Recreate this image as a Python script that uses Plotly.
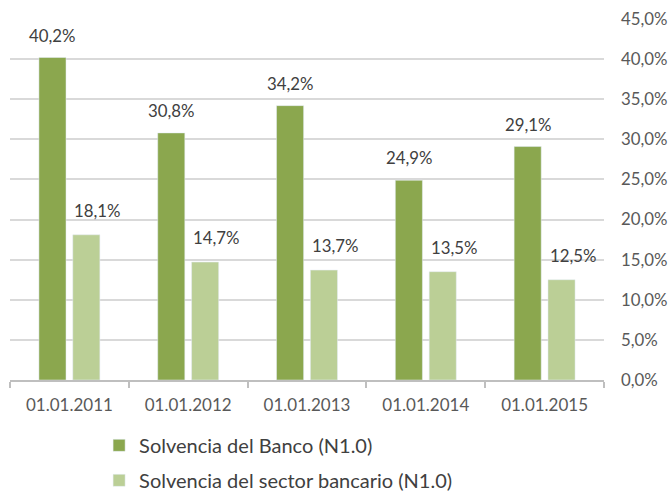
import plotly.graph_objects as go

categories = ["01.01.2011", "01.01.2012", "01.01.2013", "01.01.2014", "01.01.2015"]
banco = [40.2, 30.8, 34.2, 24.9, 29.1]
sector = [18.1, 14.7, 13.7, 13.5, 12.5]
series_names = ["Solvencia del Banco (N1.0)", "Solvencia del sector bancario (N1.0)"]
y_ticks = [0, 5, 10, 15, 20, 25, 30, 35, 40, 45]

DARK = "#8BA74E"
LIGHT = "#BBCF96"
FONT = "Lato"

fig = go.Figure()
fig.add_trace(go.Bar(x=categories, y=banco, name=series_names[0], marker_color=DARK, legendgroup="a"))
fig.add_trace(go.Bar(x=categories, y=sector, name=series_names[1], marker_color=LIGHT, legendgroup="b"))

def fmt(v):
    return f"{v:.1f}".replace(".", ",") + "%"

annotations = []
for c, v in zip(categories, banco):
    annotations.append(dict(x=c, y=v, text=fmt(v), xref="x", yref="y", showarrow=False,
                            xshift=-17, yshift=10, yanchor="bottom",
                            font=dict(family=FONT, size=16.8, color="#404040")))
for c, v in zip(categories, sector):
    annotations.append(dict(x=c, y=v, text=fmt(v), xref="x", yref="y", showarrow=False,
                            xshift=28, yshift=12, yanchor="bottom",
                            font=dict(family=FONT, size=16.8, color="#404040")))

fig.update_layout(
    width=671, height=495,
    margin=dict(l=10, r=67, t=19, b=115, autoexpand=False),
    paper_bgcolor="white", plot_bgcolor="white",
    barmode="group", bargap=0.43, bargroupgap=0.2,
    separators=",.",
    font=dict(family=FONT, color="#595959"),
    annotations=annotations,
    showlegend=True,
    legend=dict(orientation="v", x=0.15, xanchor="left", y=-0.127, yanchor="top",
                font=dict(family=FONT, size=20, color="#404040"),
                traceorder="grouped", itemclick=False, tracegroupgap=6,
                bgcolor="rgba(0,0,0,0)"),
)
fig.update_xaxes(
    type="category", automargin=False, showgrid=False, showline=True, linecolor="#BFBFBF", linewidth=1.5,
    ticks="outside", tickson="boundaries", ticklen=6, tickcolor="#BFBFBF", tickwidth=1.5,
    tickfont=dict(family=FONT, size=17, color="#595959"), ticklabelstandoff=9,
)
fig.update_yaxes(
    side="right", automargin=False, range=[0, 45], tickvals=y_ticks,
    ticktext=[fmt(t) for t in y_ticks],
    showgrid=True, gridcolor="#D9D9D9", gridwidth=1.5, zeroline=False, showline=False,
    tickfont=dict(family=FONT, size=16.8, color="#595959"), ticklabelstandoff=16,
)

fig.write_html("out.html", config={"displayModeBar": False},
               post_script="document.body.style.margin='0';document.body.style.overflow='hidden';")
